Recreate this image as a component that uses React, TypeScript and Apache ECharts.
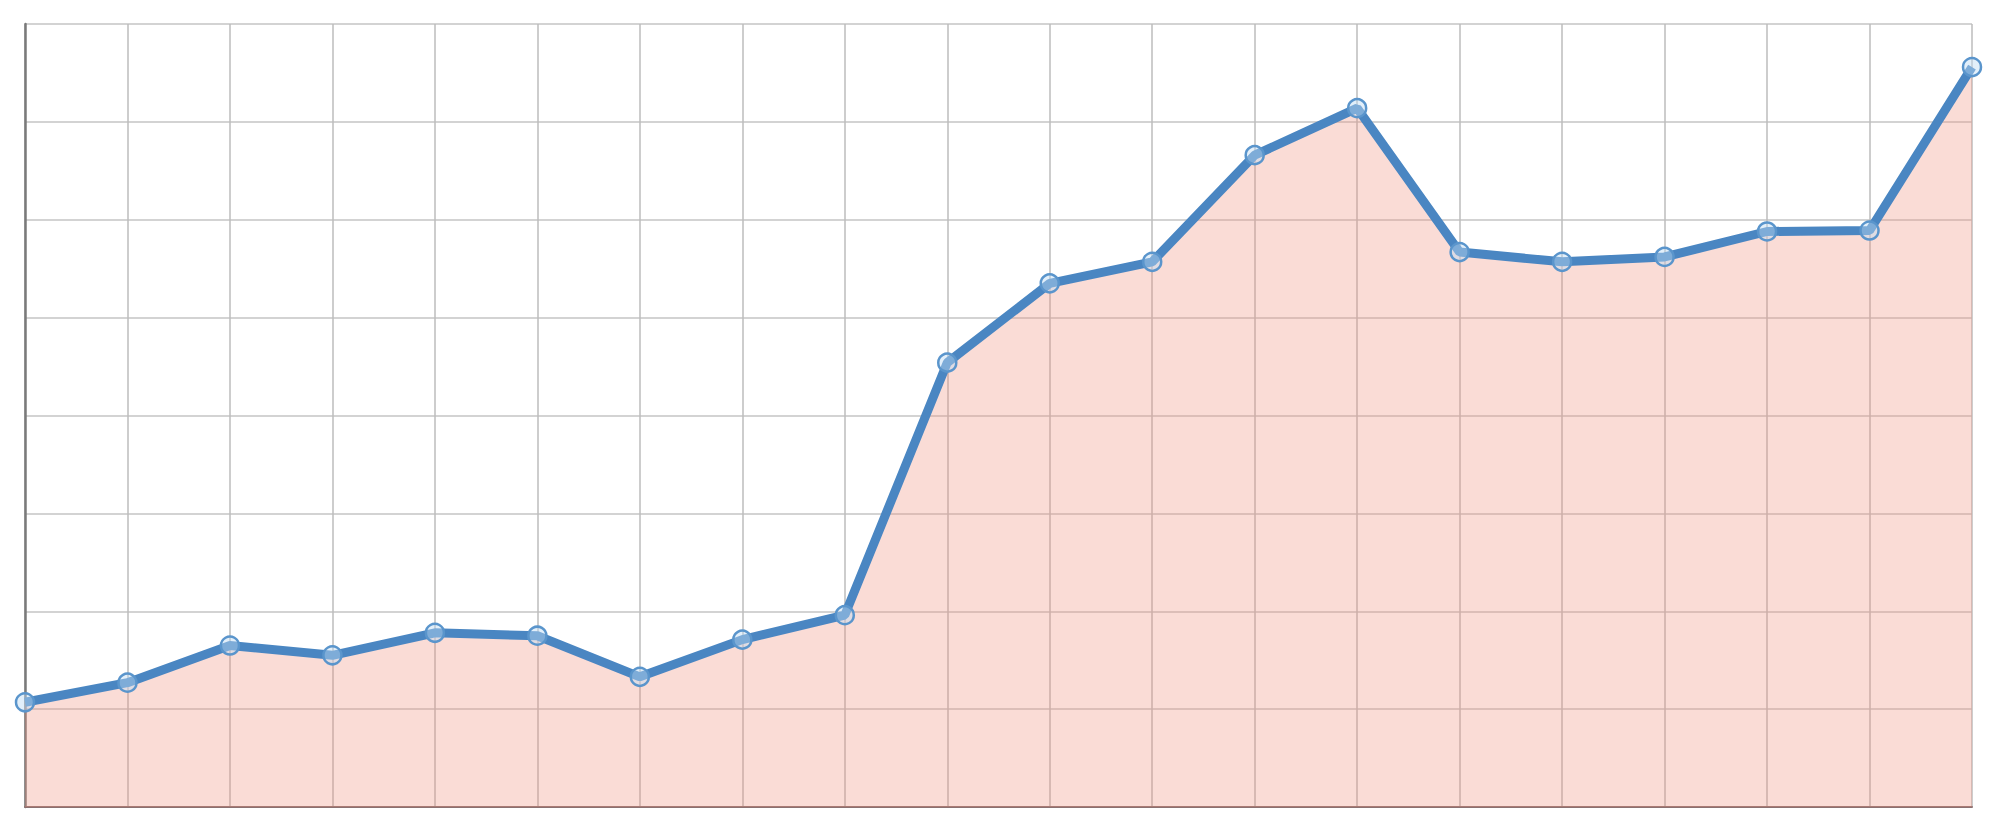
import React, { useEffect, useRef } from "react";
import * as echarts from "echarts";

const categories = ["1", "2", "3", "4", "5", "6", "7", "8", "9", "10", "11", "12", "13", "14", "15", "16", "17", "18", "19", "20"];
const values = [1.07, 1.27, 1.65, 1.55, 1.78, 1.75, 1.33, 1.71, 1.96, 4.54, 5.35, 5.57, 6.66, 7.14, 5.67, 5.57, 5.62, 5.88, 5.89, 7.56];
const yMin = 0;
const yMax = 8;
const yInterval = 1;

export default function App() {
  const ref = useRef<HTMLDivElement>(null);
  useEffect(() => {
    if (!ref.current) return;
    const chart = echarts.init(ref.current, undefined, { renderer: "svg" });
    chart.setOption({
      animation: false,
      backgroundColor: "#ffffff",
      grid: { left: 25, right: 28, top: 24, bottom: 26, containLabel: false },
      xAxis: {
        type: "category",
        data: categories,
        boundaryGap: false,
        axisLabel: { show: false },
        axisTick: { show: false },
        axisLine: { show: true, lineStyle: { color: "#8a7070", width: 2 } },
        splitLine: { show: true, lineStyle: { color: "#bdbdbd", width: 1.5 } },
      },
      yAxis: {
        type: "value",
        min: yMin,
        max: yMax,
        interval: yInterval,
        axisLabel: { show: false },
        axisTick: { show: false },
        axisLine: { show: true, lineStyle: { color: "#7a7a7a", width: 2.5 } },
        splitLine: { show: true, lineStyle: { color: "#c4c4c4", width: 1.5 } },
      },
      series: [
        {
          type: "line",
          data: values,
          symbol: "circle",
          symbolSize: 18,
          showAllSymbol: true,
          lineStyle: { color: "#4a86c2", width: 9 },
          itemStyle: { color: "rgba(190,220,245,0.45)", borderColor: "#5a95cc", borderWidth: 2.5 },
          areaStyle: { color: "rgba(238,145,125,0.45)", origin: "start" },
        },
      ],
    });
    return () => chart.dispose();
  }, []);
  return <div ref={ref} style={{ position: "fixed", left: 0, top: 0, width: 2000, height: 833 }} />;
}
